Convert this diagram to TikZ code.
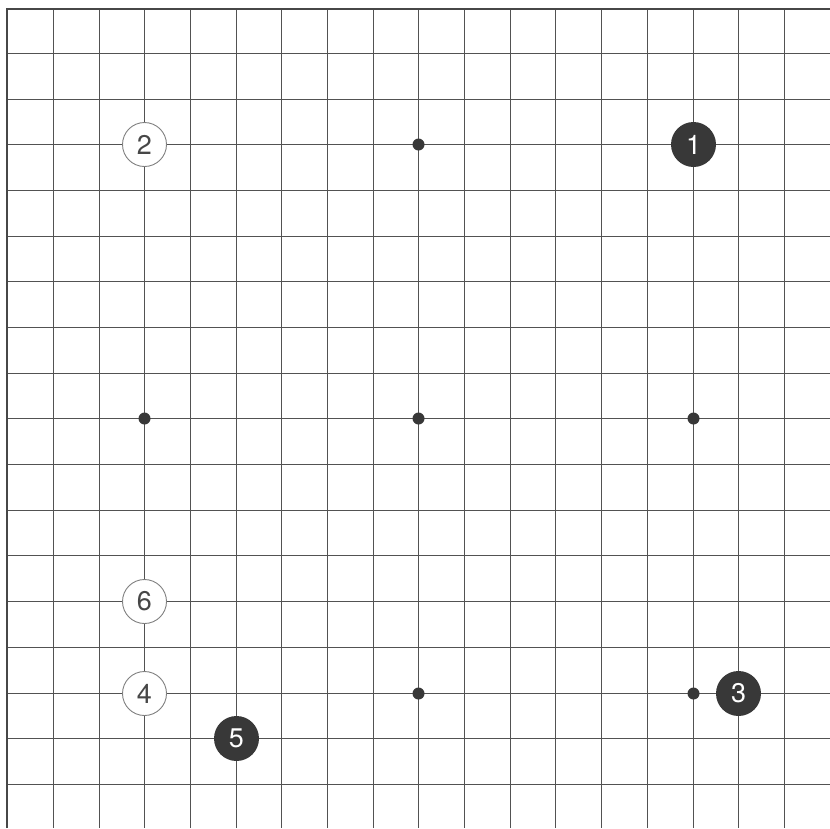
\documentclass[tikz,border=0pt]{standalone}
\usepackage{fontspec}
\setsansfont{TeX Gyre Heros}
\begin{document}
\begin{tikzpicture}[x=1pt,y=-1pt,
  gridline/.style={line width=1pt,draw=black!68},
  borderline/.style={line width=2pt,draw=black!72},
  hoshi/.style={circle,fill=black!78,inner sep=0pt,minimum size=12pt},
  bstone/.style={circle,fill=black!78,inner sep=0pt,minimum size=45pt,text=white,font=\sffamily\fontsize{27}{27}\selectfont},
  wstone/.style={circle,fill=white,draw=black!50,line width=0.9pt,inner sep=0pt,minimum size=44pt,text=black!72,font=\sffamily\fontsize{27}{27}\selectfont}]
\useasboundingbox (0,0) rectangle (830,828);
\fill[white] (0,0) rectangle (830,828);
% grid line positions (pixel-centred)
\foreach \p in {53.5,99.5,144.5,190.5,236.5,281.5,327.5,373.5,418.5,464.5,510.5,555.5,601.5,647.5,693.5,738.5,784.5} {
  \draw[gridline] (\p,9) -- (\p,828);
  \draw[gridline] (7,\p) -- (830,\p);
}
% border
\draw[borderline] (7,828) -- (7,9) -- (830,9);
% hoshi
\node[hoshi] (h1) at (418.5,144.5) {};
\node[hoshi] (h2) at (144.5,418.5) {};
\node[hoshi] (h3) at (418.5,418.5) {};
\node[hoshi] (h4) at (693.5,418.5) {};
\node[hoshi] (h5) at (418.5,693.5) {};
\node[hoshi] (h6) at (693.5,693.5) {};
% stones
\node[bstone] (s1) at (693.5,144.5) {1};
\node[wstone] (s2) at (144.5,144.5) {2};
\node[bstone] (s3) at (738.5,693.5) {3};
\node[wstone] (s4) at (144.5,693.5) {4};
\node[bstone] (s5) at (236.5,738.5) {5};
\node[wstone] (s6) at (144.5,601.5) {6};
\end{tikzpicture}
\end{document}
